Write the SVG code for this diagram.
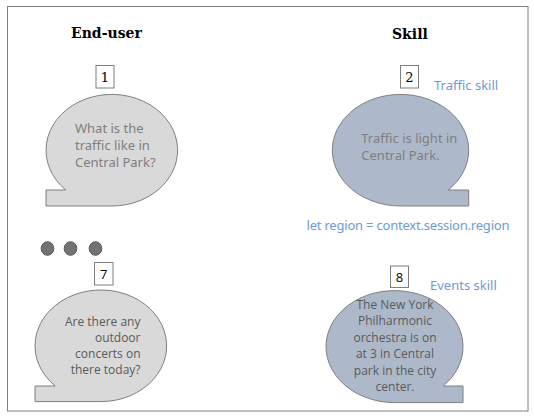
<svg xmlns="http://www.w3.org/2000/svg" width="534" height="417" viewBox="0 0 534 417">
<style>
.frame{fill:#ffffff;stroke:#808080;stroke-width:1}
.title{font-family:"DejaVu Serif","Liberation Serif",serif;font-weight:bold;font-size:14px;fill:#000}
.num{fill:#ffffff;stroke:#7f7f7f;stroke-width:1}
.numt{font-family:"DejaVu Serif","Liberation Serif",serif;font-size:13px;fill:#000;text-anchor:middle}
.nums{font-family:"Open Sans","Noto Sans",sans-serif;font-size:13px;fill:#000;text-anchor:middle}
.user{fill:#d9d9d9;stroke:#7f7f7f;stroke-width:1}
.skill{fill:#adb9ca;stroke:#7f7f7f;stroke-width:1}
.t1{font-family:"Noto Sans","Open Sans",sans-serif;font-size:13px;fill:#7f7f7f}
.t2{font-family:"Open Sans","Noto Sans",sans-serif;font-size:12px;fill:#595959}
.blue{font-family:"Noto Sans","Open Sans",sans-serif;font-size:13px;fill:#6e9bd2}
.dot{fill:#737373;stroke:#5a5a5a;stroke-width:1}
</style>
<rect class="frame" x="7.5" y="6.5" width="520.5" height="404.5"/>
<text class="title" x="71" y="37.7">End-user</text>
<text class="title" x="392" y="39">Skill</text>
<text class="blue" x="434" y="89.5">Traffic skill</text>
<text class="blue" x="306.5" y="230" textLength="203">let region = context.session.region</text>
<text class="blue" x="430" y="289.5">Events skill</text>
<g id="dots">
<ellipse class="dot" cx="47.5" cy="248.5" rx="6.3" ry="6.8"/>
<ellipse class="dot" cx="70.5" cy="248.5" rx="6.3" ry="6.8"/>
<ellipse class="dot" cx="95.5" cy="248.5" rx="6.3" ry="6.8"/>
</g>
<g id="node1">
<rect class="num" x="96" y="65.5" width="18" height="22.5"/>
<text class="numt" x="105" y="81.5">1</text>
<path class="user" d="M 65.7 190 A 65.8 55.8 0 1 1 111.8 206 L 46 206 L 46 190 Z"/>
<text class="t1"><tspan x="75" y="132.7">What is the</tspan><tspan x="75" y="150">traffic like in</tspan><tspan x="75" y="167.3">Central Park?</tspan></text>
</g>
<g id="node2">
<rect class="num" x="400.5" y="65.5" width="18" height="22.5"/>
<text class="numt" x="409.5" y="81.5">2</text>
<path class="skill" d="M 448.3 190 A 68.2 55.8 0 1 0 400.5 206 L 468.7 206 L 468.7 190 Z"/>
<text class="t1"><tspan x="361.3" y="143">Traffic is light in</tspan><tspan x="361.3" y="160">Central Park.</tspan></text>
</g>
<g id="node7">
<rect class="num" x="94.5" y="262.5" width="18.5" height="22.5"/>
<text class="nums" x="103.7" y="279">7</text>
<path class="user" d="M 55.2 386 A 65.8 55.8 0 1 1 100.8 401.6 L 35 401.6 L 35 386 Z"/>
<text class="t2" text-anchor="end"><tspan x="140.5" y="325.5">Are there any</tspan><tspan x="140.5" y="341.7">outdoor</tspan><tspan x="140.5" y="357.7">concerts on</tspan><tspan x="140.5" y="373.5">there today?</tspan></text>
</g>
<g id="node8">
<rect class="num" x="390.5" y="266" width="18" height="21.5"/>
<text class="nums" x="399.5" y="282">8</text>
<path class="skill" d="M 443.2 386 A 68.5 56 0 1 0 394.5 402.6 L 463 402.6 L 463 386 Z"/>
<text class="t2" text-anchor="middle"><tspan x="395" y="309">The New York</tspan><tspan x="395" y="325.4">Philharmonic</tspan><tspan x="395" y="341.8">orchestra is on</tspan><tspan x="395" y="358.2">at 3 in Central</tspan><tspan x="395" y="374.6">park in the city</tspan><tspan x="395" y="391">center.</tspan></text>
</g>
<g id="connectors"/>
</svg>
